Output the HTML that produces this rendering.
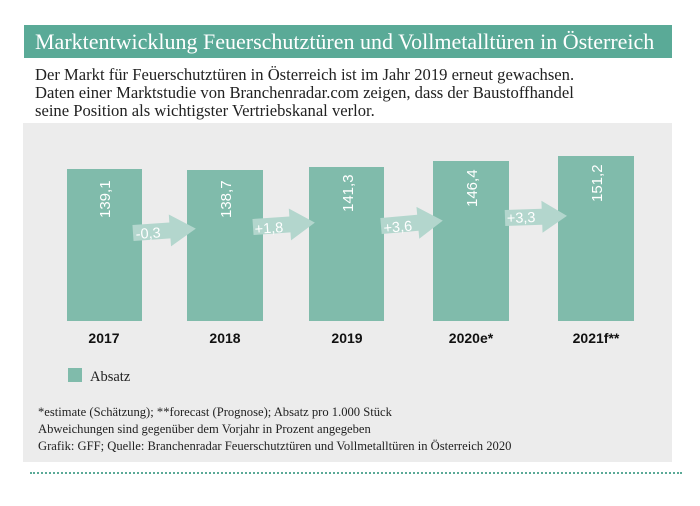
<!DOCTYPE html>
<html><head><meta charset="utf-8"><style>
body{margin:0;width:700px;height:506px;background:#fff;overflow:hidden;position:relative;font-family:"Liberation Serif",serif}
.t{position:absolute;left:24px;top:25px;width:648px;height:33px;background:#5aaa97;color:#fff;font-size:22px;line-height:33px;padding-left:11px;box-sizing:border-box;white-space:nowrap}
.d{position:absolute;left:35px;top:66px;font-size:16.6px;line-height:18px;color:#222;white-space:nowrap}
.g{position:absolute;left:23px;top:123px;width:649px;height:339px;background:#ececec}
.dot{position:absolute;left:30px;top:472px;width:652px;border-top:2px dotted #5aaa97}
</style></head><body>
<div class="t">Marktentwicklung Feuerschutztüren und Vollmetalltüren in Österreich</div>
<div class="d">Der Markt für Feuerschutztüren in Österreich ist im Jahr 2019 erneut gewachsen.<br>Daten einer Marktstudie von Branchenradar.com zeigen, dass der Baustoffhandel<br>seine Position als wichtigster Vertriebskanal verlor.</div>
<div class="g"></div>
<div class="dot"></div>
<svg width="700" height="506" style="position:absolute;left:0;top:0">
<g fill="#80bbab">
<rect x="67" y="169" width="75" height="152"/>
<rect x="187" y="170" width="76" height="151"/>
<rect x="309" y="167" width="75" height="154"/>
<rect x="433" y="161" width="76" height="160"/>
<rect x="558" y="156" width="76" height="165"/>
<rect x="68" y="368" width="14" height="14"/>
</g>
<g fill="#fff" font-family="Liberation Sans,sans-serif" font-size="15">
<text transform="translate(110,218) rotate(-90)">139,1</text>
<text transform="translate(231,218) rotate(-90)">138,7</text>
<text transform="translate(353,212) rotate(-90)">141,3</text>
<text transform="translate(477,207) rotate(-90)">146,4</text>
<text transform="translate(602,202) rotate(-90)">151,2</text>
</g>
<g fill="#b3d6cd">
<polygon transform="translate(133,233) rotate(-4)" points="0,-8 37,-8 37,-16 63,0 37,16 37,8 0,8"/>
<polygon transform="translate(253,227) rotate(-4)" points="0,-8 37,-8 37,-16 62,0 37,16 37,8 0,8"/>
<polygon transform="translate(381,226) rotate(-5)" points="0,-8 37,-8 37,-16 62,0 37,16 37,8 0,8"/>
<polygon transform="translate(505,218) rotate(-2)" points="0,-8 37,-8 37,-16 62,0 37,16 37,8 0,8"/>
</g>
<g fill="#fff" font-family="Liberation Sans,sans-serif" font-size="14.5">
<text transform="translate(136,239) rotate(-4)">-0,3</text>
<text transform="translate(255,234) rotate(-4)">+1,8</text>
<text transform="translate(384,233) rotate(-5)">+3,6</text>
<text transform="translate(507,223) rotate(-2)">+3,3</text>
</g>
<g fill="#111" font-family="Liberation Sans,sans-serif" font-size="14" font-weight="bold" text-anchor="middle">
<text x="104" y="343">2017</text>
<text x="225" y="343">2018</text>
<text x="347" y="343">2019</text>
<text x="471" y="343">2020e*</text>
<text x="596" y="343">2021f**</text>
</g>
<text x="90" y="381" font-size="14.5" fill="#222">Absatz</text>
<g font-size="12.6" fill="#222">
<text x="38" y="416">*estimate (Schätzung); **forecast (Prognose); Absatz pro 1.000 Stück</text>
<text x="38" y="433">Abweichungen sind gegenüber dem Vorjahr in Prozent angegeben</text>
<text x="38" y="450">Grafik: GFF; Quelle: Branchenradar Feuerschutztüren und Vollmetalltüren in Österreich 2020</text>
</g>
</svg>
</body></html>
